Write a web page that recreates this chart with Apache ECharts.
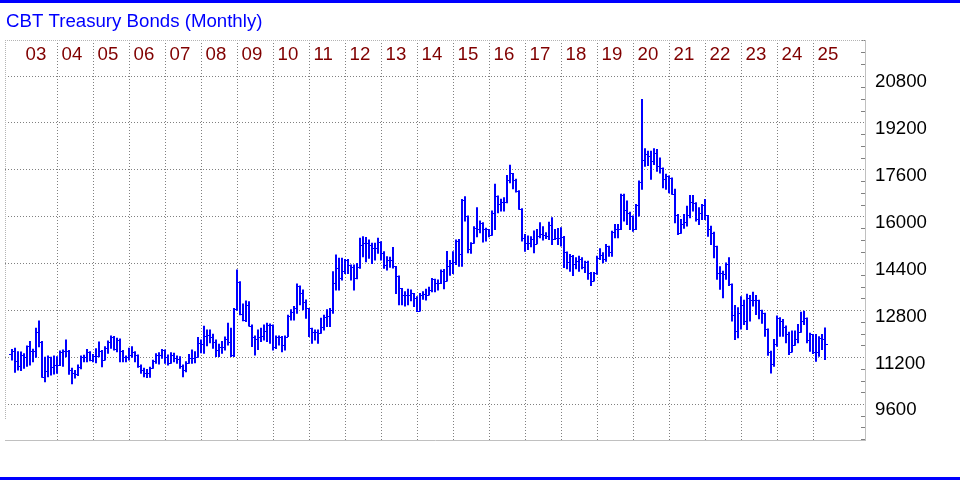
<!DOCTYPE html>
<html>
<head>
<meta charset="utf-8">
<script src="https://cdn.jsdelivr.net/npm/echarts@6/dist/echarts.min.js"></script>
<style>
html,body{margin:0;padding:0;background:#fff;}
#chart{width:960px;height:480px;}
</style>
</head>
<body>
<div id="chart"></div>
<script>
// ---- data (monthly OHLC, Sep 2002 .. Apr 2025) ----
const firstYear = 2002, firstMonth = 9; // September 2002
const yearLabels = ['03','04','05','06','07','08','09','10','11','12','13','14','15','16','17','18','19','20','21','22','23','24','25'];
const yearLines = [2003,2004,2005,2006,2007,2008,2009,2010,2011,2012,2013,2014,2015,2016,2017,2018,2019,2020,2021,2022,2023,2024,2025,2026];
const yTicks = [9600, 11200, 12800, 14400, 16000, 17600, 19200, 20800];

const openP = [
 11300,11420,11080,10900,
 11280,11200,11580,11420,11430,12050,11740,10540,10740,11200,10860,10940,
 10930,11390,11420,11420,10770,10680,10620,10860,11200,11200,11390,11110,
 11250,11250,11430,11110,11510,11740,11910,11490,11790,11430,11200,11200,
 11280,11390,11280,10900,10770,10660,10660,10830,11080,11280,11280,11450,
 11220,11020,11280,11170,11140,10900,10770,11020,11170,11190,11220,11700,
 11640,11930,11960,11900,11710,11450,11550,11550,11810,11740,11280,12840,
 13780,12670,12470,12990,12270,11910,11810,11880,11930,12110,12300,12300,
 11540,11910,11910,11620,11910,12610,12760,12870,13630,13380,13100,12870,
 12190,12080,12080,12020,12250,12590,12610,12820,13720,14240,13890,14160,
 14520,14350,14270,13900,14270,15030,15110,15090,15030,14920,14920,15140,
 14770,14350,14520,14520,14300,13970,13550,13330,13330,13330,13380,13210,
 12780,13330,13360,13330,13500,13860,13720,13720,14150,13800,14300,14420,
 14440,15160,14710,16550,16020,14900,15090,15600,15590,15790,15560,15560,
 15360,16130,16700,16420,16500,16500,17250,17470,17250,16880,16270,15280,
 15090,15090,15220,15070,15340,15390,15360,15340,15730,15250,15280,15280,
 15320,14790,14450,14670,14400,14480,14540,14280,14450,14090,13820,14060,
 14600,14680,14540,14990,14790,15470,15560,15560,16720,16240,16130,16020,
 15560,16380,17180,17930,18120,18080,17890,18180,17740,17660,17290,17380,
 17320,16760,16070,15430,15760,15830,16070,16490,16470,15920,16110,16380,
 16040,15560,15450,14990,14080,14060,14030,14400,13700,12660,12100,12720,
 12970,12440,13230,13150,13150,13150,12810,12700,12170,11380,10960,11670,
 12550,12440,12240,11980,11380,11610,11830,12060,12450,12540,11790,11980,
 11380,11380,11870,11830
];
const highP = [
 11470,11510,11390,11380,
 11320,11590,11740,11480,12190,12440,11740,11200,11250,11200,11250,11220,
 11420,11450,11790,11430,10830,10750,10940,11250,11270,11470,11390,11300,
 11490,11720,11430,11560,11760,11930,11910,11850,11830,11430,11250,11510,
 11560,11390,11280,10940,10830,10790,10860,11100,11320,11360,11470,11450,
 11280,11360,11340,11250,11220,10940,11050,11300,11450,11390,11880,11790,
 12260,12130,12130,11990,11790,11650,11740,11890,12360,12190,12870,14180,
 13780,13020,13120,13100,12300,11930,12130,12190,12300,12360,12340,12300,
 11930,11930,11910,11930,12640,12820,12930,13700,13630,13500,13160,12870,
 12190,12130,12130,12530,12640,12820,12870,14120,14690,14580,14580,14540,
 14540,14350,14350,14400,15260,15310,15290,15200,15090,15090,15260,15140,
 14800,14630,14610,14950,14300,13970,13550,13440,13520,13500,13380,13270,
 13380,13440,13520,13590,13890,13860,13840,14180,14200,14810,14500,14800,
 15200,15220,16580,16680,16020,15110,15650,16300,15850,15790,15600,15560,
 16190,17100,16700,16590,16640,17400,17750,17470,17270,16880,16270,15390,
 15340,15310,15510,15560,15790,15650,15450,15810,15960,15560,15590,15620,
 15320,14790,14710,14670,14600,14650,14600,14480,14480,14090,14090,14650,
 14900,14770,15050,14990,15500,15730,15730,16760,16760,16530,16150,16020,
 16410,17210,19990,18310,18230,18230,18310,18290,18000,17660,17440,17380,
 17320,16930,16070,15900,16070,16350,16720,16720,16470,16300,16410,16580,
 16040,15670,15470,14990,14290,14140,14420,14600,13700,12970,12890,13270,
 13150,13350,13310,13420,13310,13150,12810,12700,12170,11410,11810,12610,
 12550,12490,12270,12060,12100,12100,12320,12740,12770,12540,12020,11980,
 11980,11900,11980,12200
];
const lowP = [
 11110,10690,10770,10750,
 10830,10900,10940,11050,11200,11560,10520,10370,10540,10600,10630,10660,
 10920,10900,11220,10620,10300,10500,10580,10810,11050,11050,11080,11050,
 11020,11220,10880,11110,11340,11510,11450,11390,11050,11050,11050,11110,
 11200,11050,10860,10660,10540,10510,10520,10830,11000,10970,11170,11000,
 10940,11000,11050,11000,10830,10540,10710,11000,11000,11020,11200,11360,
 11340,11600,11700,11510,11230,11230,11340,11450,11620,11230,11230,12810,
 12650,12450,12420,12270,11570,11280,11470,11740,11790,11740,11680,11450,
 11500,11620,11390,11450,11910,12470,12470,12700,12990,12820,12530,11910,
 11680,11790,11680,12020,12130,12250,12250,12700,13500,13500,13840,14060,
 14060,13840,13500,13880,14240,14630,14460,14580,14400,14520,14750,14520,
 14240,14180,14270,14250,13380,12990,12990,12950,12990,13130,12930,12760,
 12780,13180,13160,13330,13440,13440,13500,13720,13540,13800,14000,14060,
 14370,14310,14310,15850,14770,14750,15090,15310,15450,15130,15170,15310,
 15360,15560,16130,16190,16190,16470,17150,16950,16840,16250,15170,14820,
 14880,14970,14770,15070,15280,15200,15250,15220,15050,15220,15050,15000,
 14260,14220,14140,13990,14220,14140,14220,14090,13860,13650,13800,14030,
 14540,14430,14480,14650,14650,15280,15280,15560,15850,15730,15560,15500,
 15560,16020,16930,17720,17740,17270,17780,17550,17490,16980,16930,16810,
 16760,15790,15390,15430,15600,15680,15960,16190,15850,15730,15900,15900,
 15330,15050,14600,13860,13520,13230,13860,13650,12440,11810,11870,12170,
 12320,12150,12440,12950,12660,12520,12360,11920,11270,10670,10900,11580,
 11920,11920,11700,11300,11380,11610,11700,12060,12320,11700,11410,11330,
 11070,11240,11470,11130
];
const closeP = [
 11420,11080,10900,11280,
 11200,11580,11420,11430,12050,11740,10540,10740,11200,10860,10940,10930,
 11390,11420,11420,10770,10680,10620,10860,11200,11200,11390,11110,11250,
 11250,11430,11110,11510,11740,11910,11490,11790,11430,11200,11200,11280,
 11390,11280,10900,10770,10660,10660,10830,11080,11280,11280,11450,11220,
 11020,11280,11170,11140,10900,10770,11020,11170,11190,11220,11700,11640,
 11930,11960,11900,11710,11450,11550,11550,11810,11740,11280,12840,13780,
 12670,12470,12990,12270,11910,11810,11880,11930,12110,12300,12300,11540,
 11910,11910,11620,11910,12610,12760,12870,13630,13380,13100,12870,12190,
 12080,12080,12020,12250,12590,12610,12820,13720,14240,13890,14160,14520,
 14350,14270,13900,14270,15030,15110,15090,15030,14920,14920,15140,14770,
 14350,14520,14520,14300,13970,13550,13330,13330,13330,13380,13210,12780,
 13330,13360,13330,13500,13860,13720,13720,14150,13800,14300,14420,14440,
 15160,14710,16550,16020,14900,15090,15600,15590,15790,15560,15560,15360,
 16130,16700,16420,16500,16500,17250,17470,17250,16880,16270,15280,15090,
 15090,15220,15070,15340,15390,15360,15340,15730,15250,15280,15280,15320,
 14790,14450,14670,14400,14480,14540,14280,14450,14090,13820,14060,14600,
 14680,14540,14990,14790,15470,15560,15560,16720,16240,16130,16020,15560,
 16380,17180,17930,18120,18080,17890,18180,17740,17660,17290,17380,17320,
 16760,16070,15430,15760,15830,16070,16490,16470,15920,16110,16380,16040,
 15560,15450,14990,14080,14060,14030,14400,13700,12660,12100,12720,12970,
 12440,13230,13150,13150,13150,12810,12700,12170,11380,10960,11670,12550,
 12440,12240,11980,11380,11610,11830,12060,12450,12540,11790,11980,11380,
 11380,11870,11830,11670
];

// month positions on a continuous year axis (bar sits at the end of its month slot)
const bars = closeP.map((c, i) => {
  const k = firstMonth - 1 + i;
  const yr = firstYear + Math.floor(k / 12);
  const m = k % 12;
  return [yr + (m + 1) / 12, openP[i], highP[i], lowP[i], c];
});

const FONT = "'Liberation Sans', Arial, Helvetica, sans-serif";
const BLUE = '#0000ff';
const X_MIN = 2003 - 16.5 / 36, X_MAX = 2003 - 16.5 / 36 + 860 / 36;

function renderBar(params, api) {
  const x = api.value(0);
  const pH = api.coord([x, api.value(2)]);
  const pL = api.coord([x, api.value(3)]);
  const pO = api.coord([x, api.value(1)]);
  const pC = api.coord([x, api.value(4)]);
  const cx = Math.floor(pH[0]);
  const yo = Math.round(pO[1]) + 0.5, yc = Math.round(pC[1]) + 0.5;
  return {
    type: 'group',
    children: [
      { type: 'line', shape: { x1: cx, y1: pH[1] - 0.5, x2: cx, y2: pL[1] + 0.5 }, style: { stroke: BLUE, lineWidth: 2 } },
      { type: 'line', shape: { x1: cx - 3, y1: yo, x2: cx, y2: yo }, style: { stroke: BLUE, lineWidth: 1 } },
      { type: 'line', shape: { x1: cx, y1: yc, x2: cx + 3, y2: yc }, style: { stroke: BLUE, lineWidth: 1 } }
    ]
  };
}

const chart = echarts.init(document.getElementById('chart'), null, { renderer: 'canvas' });
chart.setOption({
  animation: false,
  backgroundColor: '#ffffff',
  title: {
    text: 'CBT Treasury Bonds (Monthly)',
    left: 6, top: 12, padding: 0,
    textStyle: { color: BLUE, fontSize: 18.67, fontWeight: 'normal', fontFamily: FONT }
  },
  grid: [
    { left: 5, right: 95, top: 28.9, bottom: 28.8 },
    { left: 5, right: 95, top: 40, bottom: 40 },
    { left: 5, right: 95, top: 28.9, bottom: 28.8 }
  ],
  xAxis: [
    { gridIndex: 0, type: 'value', min: X_MIN, max: X_MAX, show: false },
    {
      gridIndex: 1, type: 'value', min: X_MIN, max: X_MAX, position: 'top',
      axisLine: { show: false, onZero: false },
      axisTick: { show: false, customValues: yearLines },
      splitLine: { show: true, showMinLine: false, showMaxLine: false, lineStyle: { color: '#808080', width: 1, type: [1, 2] } },
      axisLabel: {
        inside: true, margin: 5, align: 'left', verticalAlign: 'top', padding: [0, 0, 0, 4],
        color: '#800000', fontSize: 18.67, fontFamily: FONT,
        customValues: yearLines.slice(0, yearLabels.length),
        formatter: v => {
          const k = Math.round(v) - 2003;
          return (k >= 0 && k < yearLabels.length) ? yearLabels[k] : '';
        }
      }
    },
    { gridIndex: 2, type: 'value', min: 0, max: 1, show: false }
  ],
  yAxis: [
    { gridIndex: 0, type: 'value', min: 8000, max: 22400, show: false },
    { gridIndex: 1, type: 'value', min: 0, max: 1, show: false },
    {
      gridIndex: 2, type: 'value', min: 8000, max: 22400, interval: 1600, position: 'right',
      axisLine: { show: false, onZero: false },
      axisTick: { show: false, inside: true },
      minorTick: { show: true, splitNumber: 4, length: 4, lineStyle: { color: '#808080' } },
      splitLine: { show: true, showMinLine: false, showMaxLine: false, lineStyle: { color: '#808080', width: 1, type: [1, 2] } },
      axisLabel: {
        showMinLabel: false, showMaxLabel: false,
        margin: 10, align: 'left', verticalAlign: 'top', lineHeight: 12,
        color: '#000000', fontSize: 18.67, fontFamily: FONT,
        formatter: v => (yTicks.indexOf(v) >= 0 ? String(v) : '')
      }
    }
  ],
  series: [{
    type: 'custom',
    xAxisIndex: 0, yAxisIndex: 0,
    clip: true,
    silent: true,
    renderItem: renderBar,
    dimensions: ['x', 'open', 'high', 'low', 'close'],
    encode: { x: 0, y: [1, 2, 3, 4] },
    data: bars
  }],
  graphic: [
    { type: 'rect', shape: { x: 0, y: 0, width: 960, height: 3 }, style: { fill: BLUE }, z: 100 },
    { type: 'rect', shape: { x: 0, y: 477, width: 960, height: 3 }, style: { fill: BLUE }, z: 100 },
    { type: 'line', shape: { x1: 5, y1: 40.5, x2: 865, y2: 40.5 }, style: { stroke: '#b4b4b4', lineWidth: 1, lineDash: [1, 1] }, z: 50 },
    { type: 'line', shape: { x1: 5.5, y1: 40, x2: 5.5, y2: 420 }, style: { stroke: '#b4b4b4', lineWidth: 1, lineDash: [1, 1] }, z: 50 },
    { type: 'line', shape: { x1: 865.5, y1: 40, x2: 865.5, y2: 441 }, style: { stroke: '#c0c0c0', lineWidth: 1 }, z: 50 },
    { type: 'line', shape: { x1: 5, y1: 440.5, x2: 866, y2: 440.5 }, style: { stroke: '#c0c0c0', lineWidth: 1 }, z: 50 }
  ]
});
</script>
</body>
</html>
